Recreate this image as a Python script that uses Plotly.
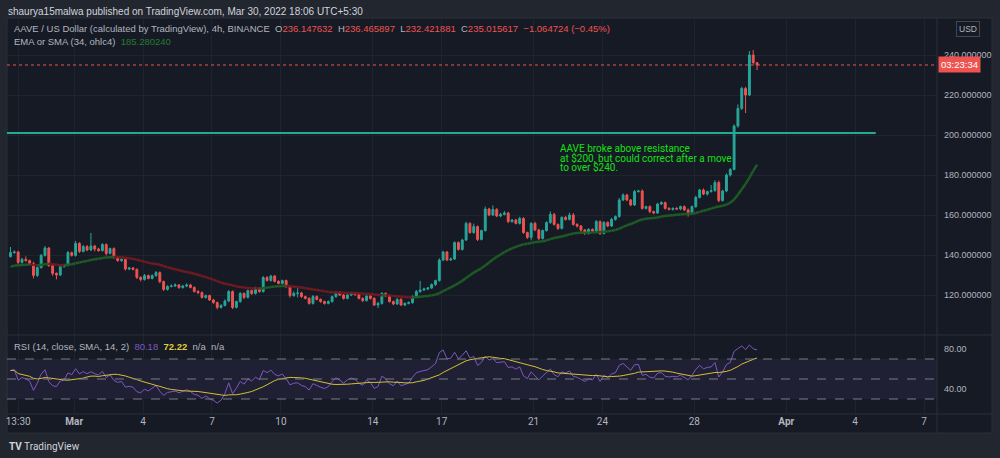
import pandas as pd
import plotly.graph_objects as go
from plotly.subplots import make_subplots

# AAVE / USD, 4h candles (times in UTC+5:30)
first_candle = "2022-02-26 05:30"
first_open = 139.2
closes = [
    141.2, 141.5, 136.3, 137.8, 137.2, 135.8, 129.8, 133.7, 139.8, 143.5,
    134.7, 130.8, 130.0, 134.2, 135.0, 141.2, 139.8, 145.8, 141.8, 144.2,
    142.5, 144.5, 143.0, 142.2, 145.2, 140.8, 143.2, 138.8, 137.2, 137.8,
    133.0, 133.5, 132.8, 128.8, 127.8, 129.7, 128.3, 129.7, 131.2, 126.7,
    122.8, 124.3, 124.5, 125.0, 123.7, 124.5, 125.0, 123.8, 121.8, 121.2,
    118.8, 119.7, 117.5, 116.2, 113.8, 114.8, 117.0, 121.7, 113.8, 116.7,
    120.8, 118.8, 122.2, 120.8, 123.3, 121.7, 128.7, 127.3, 129.5, 126.8,
    125.8, 127.2, 124.2, 119.7, 120.8, 121.0, 119.2, 118.3, 115.8, 119.2,
    117.8, 116.7, 115.8, 116.7, 119.2, 121.2, 120.0, 118.3, 120.0, 120.8,
    120.2, 118.3, 117.2, 119.5, 118.3, 115.0, 115.8, 120.8, 119.5, 116.7,
    115.5, 117.8, 115.0, 115.8, 116.2, 119.2, 121.7, 122.5, 123.0, 123.5,
    125.2, 127.2, 137.5, 141.5, 137.5, 138.0, 146.2, 142.8, 147.5, 155.8,
    151.2, 154.2, 147.8, 152.2, 163.0, 160.0, 162.8, 159.5, 160.3, 161.0,
    156.7, 157.5, 155.8, 158.3, 151.2, 148.8, 155.8, 152.5, 148.3, 152.2,
    156.2, 160.3, 155.3, 153.3, 158.8, 157.8, 160.0, 155.3, 154.5, 152.5,
    150.8, 152.8, 152.0, 156.7, 150.8, 156.3, 154.5, 157.8, 159.2, 167.5,
    170.0, 167.5, 165.0, 171.7, 172.0, 163.3, 164.2, 161.7, 161.0, 165.5,
    166.2, 163.3, 162.8, 163.3, 163.0, 164.2, 162.5, 161.2, 164.2, 168.8,
    172.5, 170.5, 171.7, 172.2, 176.2, 167.2, 172.0, 180.0, 182.8, 204.5,
    213.3, 223.3, 220.0, 240.0, 236.147632, 235.015617,
]
# wick lengths above / below the candle bodies
wick_up = [
    2.8, 0.8, 0.6, 0.8, 1.5, 0.5, 0.8, 0.6, 0.7, 1.0,
    0.5, 0.6, 0.5, 0.5, 0.6, 0.8, 0.5, 1.2, 0.6, 0.8,
    0.8, 6.5, 0.6, 0.6, 0.8, 0.6, 0.5, 0.6, 0.5, 0.6,
    0.6, 0.5, 0.5, 0.5, 0.6, 0.8, 0.5, 0.6, 0.8, 0.6,
    0.5, 0.6, 0.8, 0.8, 0.5, 0.6, 0.8, 0.6, 0.5, 0.6,
    0.6, 0.5, 0.5, 0.6, 0.5, 0.6, 0.8, 0.8, 0.6, 0.5,
    0.6, 0.5, 0.6, 0.5, 0.8, 0.5, 0.8, 0.8, 0.6, 0.5,
    0.6, 0.5, 0.5, 0.6, 1.0, 2.5, 0.6, 0.5, 0.6, 0.8,
    0.6, 0.5, 0.5, 0.6, 0.6, 0.5, 0.6, 0.5, 0.6, 0.8,
    0.6, 0.5, 0.6, 0.8, 0.5, 0.6, 0.8, 0.6, 0.5, 0.6,
    0.5, 0.6, 0.6, 0.5, 0.6, 0.6, 0.8, 4.5, 0.6, 0.5,
    0.6, 0.5, 0.8, 0.6, 0.5, 0.8, 0.6, 0.6, 0.6, 0.8,
    0.6, 1.5, 0.6, 0.5, 1.2, 0.6, 2.0, 0.6, 0.8, 1.0,
    0.6, 0.5, 0.6, 0.8, 0.6, 0.5, 0.6, 0.8, 0.6, 0.5,
    0.6, 1.5, 0.8, 0.5, 0.6, 0.8, 1.2, 1.0, 0.6, 0.5,
    0.5, 0.6, 0.5, 0.8, 0.6, 0.6, 0.5, 0.8, 0.6, 1.0,
    0.8, 0.6, 0.5, 0.8, 0.6, 0.8, 0.5, 0.6, 0.5, 0.6,
    0.6, 0.5, 0.6, 0.5, 0.6, 0.5, 0.6, 0.8, 0.6, 0.8,
    0.6, 0.8, 0.5, 2.8, 1.2, 1.0, 0.6, 0.8, 0.6, 0.8,
    2.0, 0.8, 0.8, 2.0, 2.5, 0.32,
]
wick_dn = [
    0.5, 0.6, 0.8, 0.6, 0.5, 0.8, 1.5, 0.8, 0.5, 0.6,
    0.6, 1.2, 2.2, 0.6, 0.5, 0.7, 0.6, 0.6, 0.8, 0.5,
    0.6, 0.5, 1.2, 0.6, 0.5, 1.0, 0.5, 0.8, 0.6, 0.6,
    0.8, 0.6, 0.5, 0.8, 1.0, 0.6, 0.5, 0.5, 0.6, 0.8,
    0.8, 0.6, 0.5, 0.5, 0.6, 0.5, 0.6, 0.5, 0.6, 0.8,
    0.6, 0.6, 0.5, 0.6, 1.0, 0.6, 0.5, 0.6, 0.8, 0.5,
    0.6, 0.8, 0.5, 0.8, 0.6, 0.6, 0.5, 0.6, 0.6, 0.5,
    0.5, 0.6, 0.8, 1.0, 0.6, 2.0, 0.6, 0.5, 0.6, 0.6,
    0.5, 0.6, 0.6, 0.5, 0.5, 0.6, 0.5, 0.6, 0.5, 0.6,
    0.6, 0.5, 0.8, 0.5, 0.6, 0.5, 1.5, 0.6, 0.6, 0.5,
    0.6, 0.5, 0.5, 0.6, 0.5, 0.6, 0.5, 0.6, 0.5, 0.6,
    0.5, 0.6, 0.5, 0.6, 0.6, 0.5, 0.5, 0.6, 0.6, 0.5,
    0.5, 0.6, 0.8, 0.5, 0.5, 0.6, 0.5, 0.6, 0.6, 0.5,
    0.8, 0.6, 0.5, 0.6, 0.6, 0.8, 1.5, 0.6, 0.8, 0.6,
    0.5, 0.6, 0.6, 0.8, 0.5, 0.6, 0.5, 0.6, 0.8, 1.2,
    0.8, 0.6, 0.5, 0.6, 0.8, 0.5, 0.6, 0.5, 0.6, 0.5,
    0.5, 0.6, 0.6, 0.5, 0.5, 0.6, 0.6, 0.8, 0.6, 0.5,
    0.5, 0.6, 0.5, 0.6, 0.5, 0.6, 0.5, 2.0, 0.5, 0.6,
    0.5, 0.6, 0.8, 0.5, 0.6, 0.8, 0.5, 0.6, 0.8, 0.5,
    0.8, 0.8, 9.0, 0.6, 0.6, 2.59,
]

ema_seed = 134.2                       # EMA(34, ohlc4) at the left edge
rsi_seed_gain, rsi_seed_loss = 1.2, 0.85

resistance = 201.0
resistance_end = "2022-04-04 21:30"
last_price = 235.015617
x_range = ["2022-02-26 01:50", "2022-04-07 13:30"]

tick_dates = ["2022-02-26 13:30", "2022-03-01", "2022-03-04", "2022-03-07", "2022-03-10",
              "2022-03-14", "2022-03-17", "2022-03-21", "2022-03-24", "2022-03-28",
              "2022-04-01", "2022-04-04", "2022-04-07"]
tick_text = ["13:30", "<b>Mar</b>", "4", "7", "10", "14", "17", "21", "24", "28",
             "<b>Apr</b>", "4", "7"]
price_ticks = [120, 140, 160, 180, 200, 220, 240]
rsi_ticks = [40, 80]
rsi_levels = [70, 50, 30]

# colours
OUTER = "#22262f"
PANEL = "#161a25"
GRID = "#1f2330"
SEP = "#2a2e39"
TXT = "#b2b5be"
UP, DOWN = "#26a69a", "#ef5350"
SANS = "Liberation Sans, Arial, sans-serif"

# derived series
n = len(closes)
times = pd.date_range(first_candle, periods=n, freq="4h")
opens = [first_open] + closes[:-1]
highs = [max(o, c) + u for o, c, u in zip(opens, closes, wick_up)]
lows = [min(o, c) - d for o, c, d in zip(opens, closes, wick_dn)]

ohlc4 = [(o + h + l + c) / 4 for o, h, l, c in zip(opens, highs, lows, closes)]
alpha = 2 / 35
ema = [ema_seed]
for v in ohlc4[1:]:
    ema.append(ema[-1] + alpha * (v - ema[-1]))

ag, al = rsi_seed_gain, rsi_seed_loss
rsi = [100 - 100 / (1 + ag / al)]
for i in range(1, n):
    ch = closes[i] - closes[i - 1]
    ag = (ag * 13 + max(ch, 0)) / 14
    al = (al * 13 + max(-ch, 0)) / 14
    rsi.append(100 - 100 / (1 + ag / al))
rsi_ma = pd.Series(rsi).rolling(14, min_periods=1).mean()

# ema split into rising (green) / falling (red) pieces
up_x, up_y, dn_x, dn_y = [], [], [], []
for i in range(1, n):
    if ema[i] >= ema[i - 1]:
        up_x += [times[i - 1], times[i], None]
        up_y += [ema[i - 1], ema[i], None]
    else:
        dn_x += [times[i - 1], times[i], None]
        dn_y += [ema[i - 1], ema[i], None]

fig = make_subplots(rows=2, cols=1, shared_xaxes=True, vertical_spacing=0)
fig.add_trace(go.Scatter(x=up_x, y=up_y, mode="lines", line=dict(color="#1e5a25", width=2.5),
                         hoverinfo="skip"), row=1, col=1)
fig.add_trace(go.Scatter(x=dn_x, y=dn_y, mode="lines", line=dict(color="#6e1a21", width=2.5),
                         hoverinfo="skip"), row=1, col=1)
fig.add_trace(go.Candlestick(
    x=times, open=opens, high=highs, low=lows, close=closes,
    increasing=dict(line=dict(color=UP, width=1), fillcolor=UP),
    decreasing=dict(line=dict(color=DOWN, width=1), fillcolor=DOWN),
    whiskerwidth=0, hoverinfo="skip"), row=1, col=1)
fig.add_trace(go.Scatter(x=times, y=rsi, mode="lines", line=dict(color="#7e57c2", width=1),
                         hoverinfo="skip"), row=2, col=1)
fig.add_trace(go.Scatter(x=times, y=rsi_ma, mode="lines", line=dict(color="#d4c034", width=1),
                         hoverinfo="skip"), row=2, col=1)


def py(p):
    # pixel row -> paper y
    return 1 - p / 458


shapes = [
    dict(type="rect", xref="paper", yref="paper", x0=0.007, x1=0.992, y0=py(433), y1=py(18),
         fillcolor=PANEL, line=dict(color=SEP, width=1), layer="below"),
    dict(type="rect", xref="paper", yref="y2", x0=0.007, x1=0.937, y0=30, y1=70,
         fillcolor="rgba(126,87,194,0.1)", line_width=0, layer="below"),
    dict(type="line", xref="paper", yref="paper", x0=0.007, x1=0.992, y0=py(335), y1=py(335),
         line=dict(color=SEP, width=1)),
    dict(type="line", xref="paper", yref="paper", x0=0.007, x1=0.992, y0=py(414), y1=py(414),
         line=dict(color=SEP, width=1)),
    dict(type="line", xref="paper", yref="paper", x0=0.937, x1=0.937, y0=py(433), y1=py(18),
         line=dict(color=SEP, width=1)),
    dict(type="line", xref="x", yref="y", x0=x_range[0], x1=resistance_end,
         y0=resistance, y1=resistance, line=dict(color="#22ab94", width=2)),
    dict(type="line", xref="paper", yref="y", x0=0.007, x1=0.937, y0=last_price, y1=last_price,
         line=dict(color=DOWN, width=1, dash="dot")),
]
for lv in rsi_levels:
    shapes.append(dict(type="line", xref="paper", yref="y2", x0=0.007, x1=0.937, y0=lv, y1=lv,
                       line=dict(color="#787b86", width=1, dash="dash")))


def note(text, x, y, size=9, color=TXT, family=SANS, **kw):
    d = dict(text=text, xref="paper", yref="paper", x=x / 1000, y=py(y), xanchor="left",
             yanchor="middle", showarrow=False,
             font=dict(size=size, color=color, family=family))
    d.update(kw)
    return d


def span(txt, color):
    return "<span style='color:%s'>%s</span>" % (color, txt)


gap = "&nbsp;&nbsp;"
header = ("AAVE / US Dollar (calculated by TradingView), 4h, BINANCE" + gap
          + "O" + span("236.147632", DOWN) + gap
          + "H" + span("236.465897", DOWN) + gap
          + "L" + span("232.421881", DOWN) + gap
          + "C" + span("235.015617", DOWN) + gap
          + span("\u22121.064724 (\u22120.45%)", DOWN))
ema_header = "EMA or SMA (34, ohlc4)" + gap + span("185.280240", "#257a30")
rsi_header = ("RSI (14, close, SMA, 14, 2)" + gap + span("80.18", "#7e57c2") + gap
              + span("<b>72.22</b>", "#e0cd3a") + gap + "n/a" + gap + "n/a")

annotations = [
    note("shaurya15malwa published on TradingView.com, Mar 30, 2022 18:06 UTC+5:30", 6, 11,
         size=10, color="#d1d4dc"),
    note(header, 12, 29, size=9.5),
    note(ema_header, 12, 42, size=9.5),
    note(rsi_header, 12, 346, size=9.5),
    note("AAVE broke above resistance", 558, 148, size=10, color="#14e014", family="Roboto"),
    note("at $200, but could correct after a move", 558, 157.5, size=10, color="#14e014",
         family="Roboto"),
    note("to over $240.", 558, 167, size=10, color="#14e014", family="Roboto"),
    note("USD", 956, 29, size=8.5, bordercolor="#434651", borderwidth=1, borderpad=2),
    dict(text="03:23:34", xref="paper", yref="y", x=0.938, y=last_price, xanchor="left",
         yanchor="middle", showarrow=False, bgcolor=DOWN, borderpad=2,
         font=dict(size=9.5, color="#ffffff", family=SANS)),
    note("<b>TV</b> TradingView", 7, 446, size=10, color="#d1d4dc", family="Roboto"),
]

axis_x = dict(domain=[0.007, 0.937], range=x_range, tickmode="array", tickvals=tick_dates,
              ticktext=tick_text, showgrid=True, gridcolor=GRID, zeroline=False,
              showline=False, ticks="", rangeslider=dict(visible=False))
fig.update_layout(
    width=1000, height=458, margin=dict(l=0, r=0, t=0, b=0),
    paper_bgcolor=OUTER, plot_bgcolor="rgba(0,0,0,0)", showlegend=False,
    font=dict(family="Roboto, Liberation Sans, sans-serif", color=TXT, size=10),
    xaxis=dict(axis_x, showticklabels=False),
    xaxis2=dict(axis_x, showticklabels=True, tickfont=dict(size=10, color=TXT)),
    yaxis=dict(domain=[py(335), py(18)], range=[100, 258.5], side="right",
               tickmode="array", tickvals=price_ticks, tickformat=".6f",
               showgrid=True, gridcolor=GRID, zeroline=False, ticks="",
               ticklabelstandoff=6, tickfont=dict(size=9, color=TXT, family=SANS)),
    yaxis2=dict(domain=[py(414), py(335)], range=[15, 94], side="right",
                tickmode="array", tickvals=rsi_ticks, ticktext=["40.00", "80.00"],
                showgrid=False, zeroline=False, ticks="", ticklabelstandoff=6,
                tickfont=dict(size=9, color=TXT, family=SANS)),
    shapes=shapes, annotations=annotations,
)

# page body has a default margin; drop it so the figure sits flush in the window
fig.write_html("out.html", config={"displayModeBar": False},
               post_script="document.body.style.margin='0';"
                           "document.body.style.background='#22262f';")
